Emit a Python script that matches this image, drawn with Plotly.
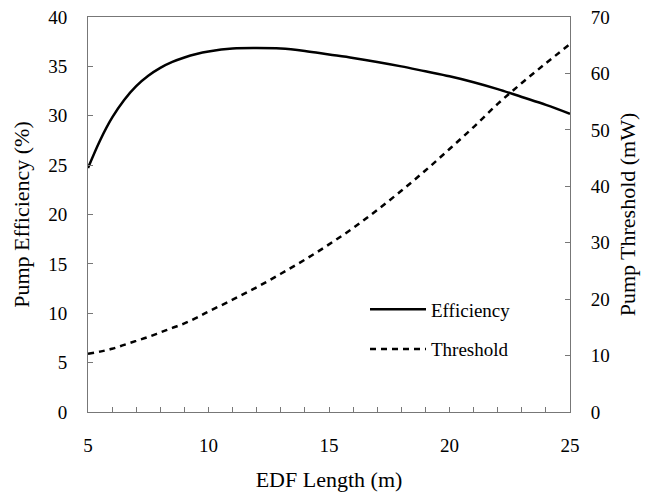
import plotly.graph_objects as go

length_m = [5, 5.5, 6, 6.5, 7, 7.5, 8, 8.5, 9, 9.5, 10, 11, 12, 13, 14, 15, 16, 17, 18, 19, 20, 21, 22, 23, 24, 25]
efficiency_pct = [24.7, 27.5, 29.8, 31.6, 33.0, 34.05, 34.85, 35.45, 35.9, 36.25, 36.5, 36.8, 36.85,
                  36.8, 36.55, 36.2, 35.85, 35.45, 35.0, 34.5, 34.0, 33.4, 32.7, 31.9, 31.1, 30.2]
threshold_mw = [10.3, 10.7, 11.2, 11.9, 12.6, 13.3, 14.1, 14.9, 15.7, 16.7, 17.8, 19.9, 22.1, 24.5,
                27.0, 29.7, 32.6, 35.8, 39.2, 42.8, 46.6, 50.5, 54.6, 58.3, 61.8, 65.2]

FONT = "Liberation Serif, Times New Roman, serif"
AX = "#777777"

fig = go.Figure()
fig.add_trace(go.Scatter(x=length_m, y=efficiency_pct, name="Efficiency", mode="lines",
                         line=dict(color="black", width=2.5, shape="spline", smoothing=1.0),
                         legendgroup="a"))
fig.add_trace(go.Scatter(x=length_m, y=threshold_mw, name="Threshold", mode="lines",
                         line=dict(color="black", width=2.5, dash="6px,5px", shape="spline"),
                         yaxis="y2", legendgroup="b"))

fig.update_layout(
    width=650, height=495,
    margin=dict(l=88, r=80, t=17, b=83, autoexpand=False),
    paper_bgcolor="white", plot_bgcolor="white",
    font=dict(family=FONT, size=19, color="black"),
    showlegend=True,
    legend=dict(x=0.5747, y=0.3076, xanchor="left", yanchor="top", itemwidth=56,
                bgcolor="rgba(0,0,0,0)", font=dict(size=19, family=FONT),
                tracegroupgap=12, traceorder="grouped"),
    xaxis=dict(range=[5, 25], tickvals=[5, 10, 15, 20, 25], automargin=False,
               ticks="inside", ticklen=5, tickcolor=AX, showline=True, linecolor=AX,
               linewidth=1, mirror=True, showgrid=False, zeroline=False,
               ticklabelstandoff=16,
               minor=dict(dtick=1, ticks="inside", ticklen=5, tickcolor=AX, showgrid=False),
               title=dict(text="EDF Length (m)", font=dict(size=22), standoff=16)),
    yaxis=dict(range=[0, 40], dtick=5, ticks="inside", ticklen=5, tickcolor=AX, automargin=False,
               showline=True, linecolor=AX, linewidth=1, showgrid=False, zeroline=False,
               ticklabelstandoff=16,
               title=dict(text="Pump Efficiency (%)", font=dict(size=22), standoff=12)),
    yaxis2=dict(range=[0, 70], dtick=10, overlaying="y", side="right", automargin=False,
                ticks="inside", ticklen=5, tickcolor=AX, showline=True, linecolor=AX,
                linewidth=1, showgrid=False, zeroline=False, ticklabelstandoff=16,
                title=dict(text="Pump Threshold (mW)", font=dict(size=22), standoff=10)),
)

fig.write_html("out.html")
